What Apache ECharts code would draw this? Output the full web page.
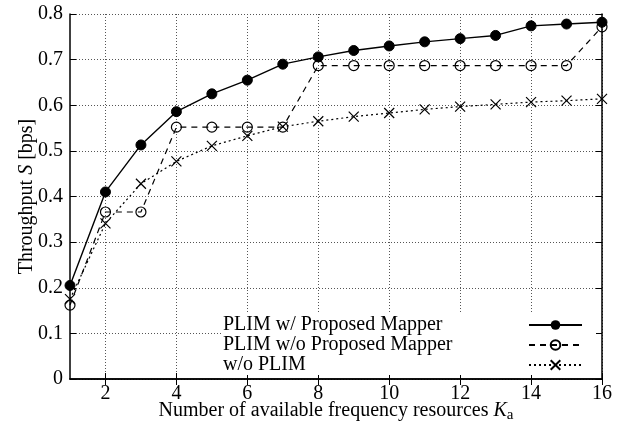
<!DOCTYPE html>
<html>
<head>
<meta charset="utf-8">
<script src="https://cdn.jsdelivr.net/npm/echarts@6/dist/echarts.min.js"></script>
<style>html,body{margin:0;padding:0;background:#fff}#c{width:637px;height:428px}</style>
</head>
<body>
<div id="c"></div>
<script>
var kValues = [1,2,3,4,5,6,7,8,9,10,11,12,13,14,15,16];
var xTicks = [2,4,6,8,10,12,14,16];
var seriesNames = ['PLIM w/ Proposed Mapper','PLIM w/o Proposed Mapper','w/o PLIM'];
var withMapper = [0.205,0.41,0.513,0.586,0.625,0.655,0.69,0.706,0.72,0.730,0.739,0.746,0.753,0.774,0.778,0.782];
var withoutMapper = [0.162,0.366,0.366,0.552,0.552,0.552,0.552,0.687,0.687,0.687,0.687,0.687,0.687,0.687,0.687,0.772];
var withoutPlim = [0.175,0.341,0.428,0.477,0.511,0.533,0.553,0.565,0.575,0.583,0.591,0.597,0.602,0.607,0.610,0.614];

function pairs(arr){ return kValues.map(function(k,i){ return [k, arr[i]]; }); }
var FONT = 'Liberation Serif';
var chart = echarts.init(document.getElementById('c'));
var axisLine = {show:true, lineStyle:{color:'#000', width:1.5}};
var tick = {show:true, inside:true, length:6, lineStyle:{color:'#000', width:1}};
chart.setOption({
  animation:false,
  backgroundColor:'#fff',
  textStyle:{fontFamily:FONT},
  grid:{left:70, right:35, top:14, bottom:49, show:false, containLabel:false, outerBoundsMode:'none'},
  legend:{
    orient:'vertical', left:221, top:313, align:'right',
    backgroundColor:'#fff', padding:[2,13,0,2], itemGap:0,
    itemWidth:53, itemHeight:12,
    data:seriesNames,
    formatter:function(n){ return '{t|' + n + '}'; },
    textStyle:{fontFamily:FONT, fontSize:20, color:'#000', lineHeight:20,
      rich:{t:{width:301, align:'left', fontFamily:FONT, fontSize:20, color:'#000', lineHeight:20}}}
  },
  xAxis:[{
    type:'value', min:1, max:16, position:'bottom',
    axisLine:axisLine,
    axisTick:Object.assign({customValues:xTicks}, tick),
    axisLabel:{customValues:xTicks, color:'#000', fontSize:20, fontFamily:FONT, margin:5},
    splitLine:{show:true, lineStyle:{type:[1,2], color:'#555', width:1}},
    name:'Number of available frequency resources {k|K}{a|a}',
    nameLocation:'middle', nameGap:19, nameMoveOverlap:false,
    nameTextStyle:{color:'#000', fontSize:20, fontFamily:FONT,
      rich:{k:{fontStyle:'italic', fontSize:20, fontFamily:FONT, color:'#000'},
            a:{fontSize:15, fontFamily:FONT, color:'#000', padding:[10,0,0,0]}}}
  },{
    type:'value', min:1, max:16, position:'top',
    axisLine:axisLine,
    axisTick:Object.assign({customValues:xTicks}, tick),
    axisLabel:{show:false}, splitLine:{show:false}
  }],
  yAxis:[{
    type:'value', min:0, max:0.8, interval:0.1, position:'left',
    axisLine:axisLine, axisTick:tick,
    axisLabel:{color:'#000', fontSize:20, fontFamily:FONT, margin:7,
      formatter:function(v){ return v===0 ? '0' : v.toFixed(1); }},
    splitLine:{show:true, lineStyle:{type:[1,2], color:'#555', width:1}},
    name:'Throughput {s|S} [bps]',
    nameLocation:'middle', nameGap:33, nameMoveOverlap:false,
    nameTextStyle:{color:'#000', fontSize:20, fontFamily:FONT,
      rich:{s:{fontStyle:'italic', fontSize:20, fontFamily:FONT, color:'#000'}}}
  },{
    type:'value', min:0, max:0.8, interval:0.1, position:'right',
    axisLine:axisLine, axisTick:tick,
    axisLabel:{show:false}, splitLine:{show:false}
  }],
  series:[{
    name:seriesNames[0], type:'line', data:pairs(withMapper), clip:false,
    symbol:'circle', symbolSize:10,
    itemStyle:{color:'#000', borderColor:'#000'},
    lineStyle:{color:'#000', width:1.4, type:'solid'}, z:3
  },{
    name:seriesNames[1], type:'line', data:pairs(withoutMapper), clip:false,
    symbol:'circle', symbolSize:10,
    itemStyle:{color:'rgba(0,0,0,0)', borderColor:'#000', borderWidth:1.2},
    lineStyle:{color:'#000', width:1.2, type:[6,5]}, z:2
  },{
    name:seriesNames[2], type:'line', data:pairs(withoutPlim), clip:false,
    symbol:'path://M-1,-1L1,1M-1,1L1,-1', symbolSize:10,
    itemStyle:{color:'rgba(0,0,0,0)', borderColor:'#000', borderWidth:1.2},
    lineStyle:{color:'#000', width:1.2, type:[2,3]}, z:2
  }]
});
</script>
</body>
</html>
